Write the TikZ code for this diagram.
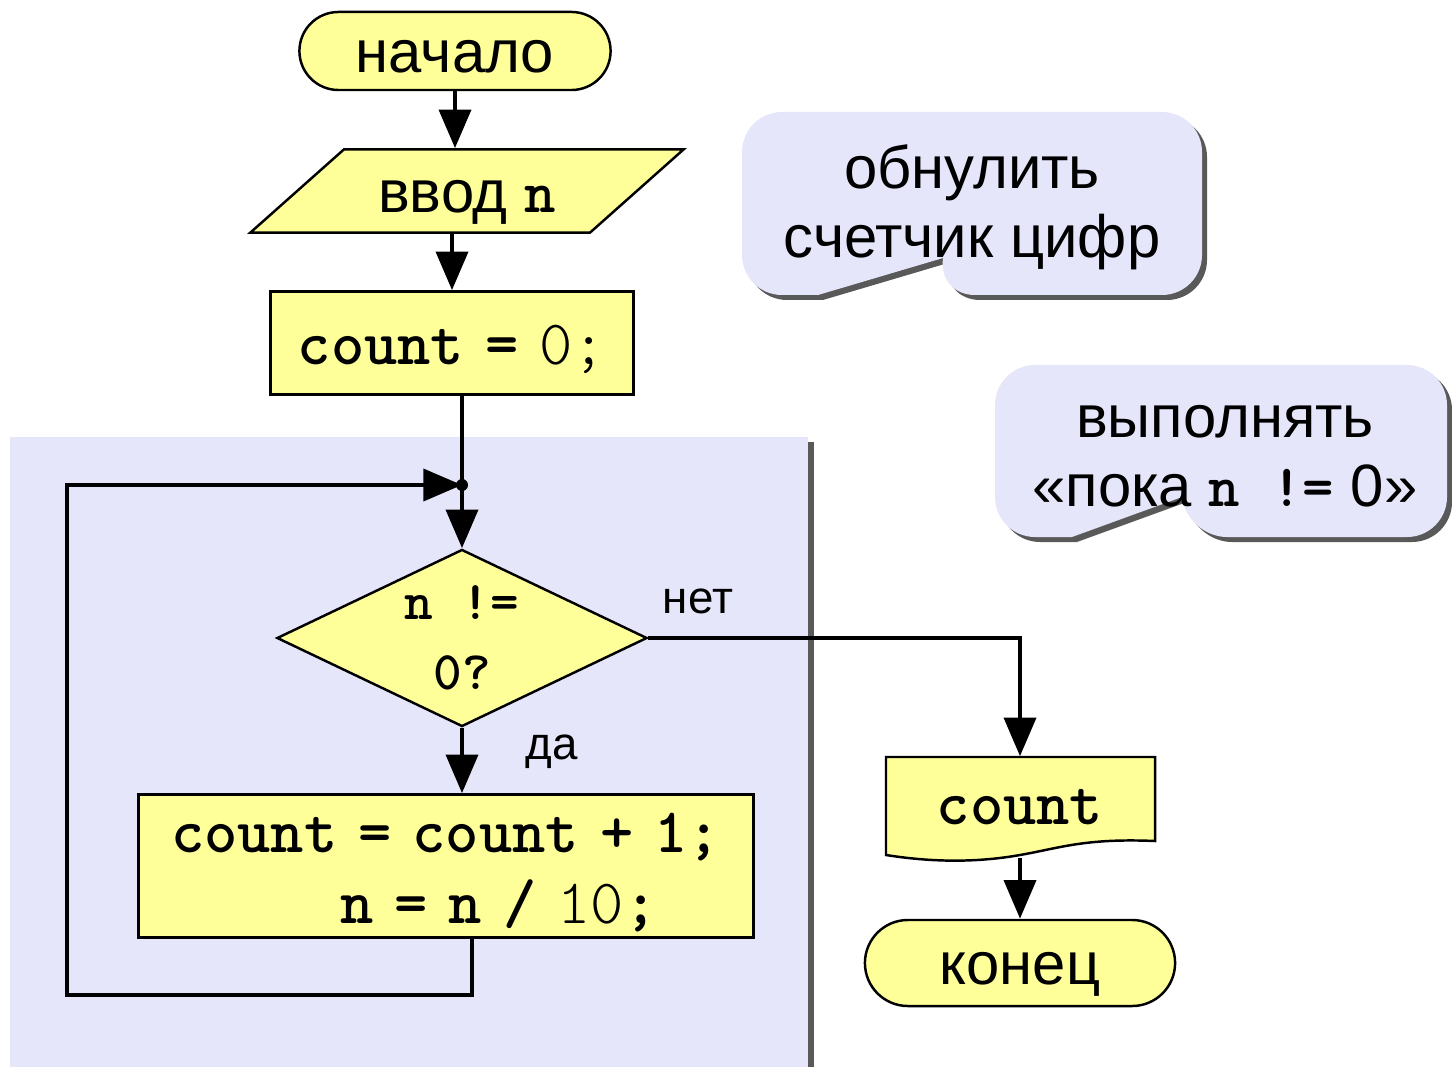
\documentclass[tikz,border=0pt]{standalone}
\usepackage{fontspec}
\setmainfont{Liberation Sans}
\setmonofont{lmmonolt10-regular.otf}[BoldFont=lmmonolt10-bold.otf]
\usetikzlibrary{shapes.geometric,shapes.misc,arrows.meta}
\definecolor{blockfill}{RGB}{255,255,153}
\definecolor{notefill}{RGB}{230,230,250}
\newcommand{\code}[1]{{\ttfamily\bfseries #1}}
\newcommand{\gap}{\hspace{6pt}}
% callout with notch: x1,y1,x2,y2, tail base left, tip x, tip y, tail base right
\newcommand{\bubble}[8]{%
  \fill[black!65, shift={(5,5)}] (#5,#4) [rounded corners=0.4cm] -- (#1,#4) -- (#1,#2) -- (#3,#2) -- (#3,#4) -- (#8,#4) [sharp corners] -- (#6,#7) -- cycle;
  \fill[notefill] (#5,#4) [rounded corners=0.4cm] -- (#1,#4) -- (#1,#2) -- (#3,#2) -- (#3,#4) -- (#8,#4) [sharp corners] -- (#6,#7) -- cycle;
}
\tikzset{
  blockline/.style={draw, line width=0.7pt},
  blockbase/.style={blockline, fill=blockfill, inner sep=0pt},
  oneline/.style={text height=15.5pt, text depth=3pt},
  termbox/.style={blockbase, oneline, rounded rectangle, font=\fontsize{17}{20}\selectfont},
  iobox/.style={blockbase, oneline, trapezium, trapezium left angle=44, trapezium right angle=136,
    trapezium stretches, font=\fontsize{17}{20}\selectfont},
  procbox/.style={blockbase, rectangle, align=center, font=\fontsize{18}{20}\selectfont\ttfamily\bfseries},
  testbox/.style={blockbase, diamond, aspect=2.09, minimum width=3.7cm, minimum height=1.77cm,
    align=center, font=\fontsize{15.5}{20}\selectfont\ttfamily\bfseries},
  outbox/.style={inner sep=0pt, font=\fontsize{18}{20}\selectfont\ttfamily\bfseries},
  notetext/.style={align=center, font=\fontsize{17}{19.6}\selectfont},
  tag/.style={font=\fontsize{13}{15}\selectfont},
  flow/.style={line width=1.4pt, -{Triangle[width=9pt,length=11pt]}},
}
\begin{document}
\begin{tikzpicture}[x=0.01cm, y=-0.01cm]
\useasboundingbox (0,0) rectangle (1452,1067);
% loop area
\fill[black!65] (15,442) rectangle (814,1067);
\fill[notefill] (10,437) rectangle (808,1067);
% comments
\bubble{742}{112}{1202}{295}{818}{943}{258}{935}
\node[notetext] (zero) at (972,207) {обнулить\\счетчик цифр};
\bubble{995}{365}{1447}{537}{1072}{1182}{497}{1187}
\node[notetext] (while) at (1225,456) {выполнять\\«пока \code{n !=} 0»};
% blocks
\node[termbox, minimum width=3.11cm, minimum height=0.78cm] (start) at (455,51) {начало};
\node[iobox, minimum width=4.35cm, minimum height=0.83cm] (inp) at (467,191) {ввод \code{n}};
\node[procbox, oneline, minimum width=3.63cm, minimum height=1.03cm] (init) at (452,343) {count\gap=\gap{\mdseries 0;}};
\node[testbox] (cond) at (462,638) {n !=\\0?};
\node[procbox, minimum width=6.15cm, minimum height=1.43cm] (body) at (446,866)
  {\rule{0pt}{15pt}count\gap=\gap count\gap+\gap 1;\\\hspace*{30pt}n\gap=\gap n\gap/\gap{\mdseries 10};};
\draw[blockline, fill=blockfill] (886,757) -- (1155,757) -- (1155,841)
  .. controls (1085,838) and (1060,848) .. (1020,855)
  .. controls (975,863) and (930,862) .. (886,855) -- cycle;
\node[outbox, minimum width=2.69cm, minimum height=1.0cm] (res) at (1020,807) {count};
\node[termbox, minimum width=3.10cm, minimum height=0.86cm] (fin) at (1020,963) {конец};
\node[tag] (no) at (698,601) {нет};
\node[tag] (yes) at (552,752) {да};
% connectors
\coordinate (j) at (462,485);
\coordinate (back) at (472,995);
\coordinate (loop) at (67,995);
\draw[flow] (start.south) -- (start.south |- inp.north);
\draw[flow] (init.north |- inp.south) -- (init.north);
\draw[flow] (init.south -| cond.north) -- (cond.north);
\fill (j) circle (6);
\draw[flow] (cond.south) -- (cond.south |- body.north);
\draw[flow] (cond.east) -| (res.north);
\draw[flow] (res.south) -- (fin.north);
\draw[flow] (back |- body.south) -- (back) -- (loop) |- (j);
\end{tikzpicture}
\end{document}
